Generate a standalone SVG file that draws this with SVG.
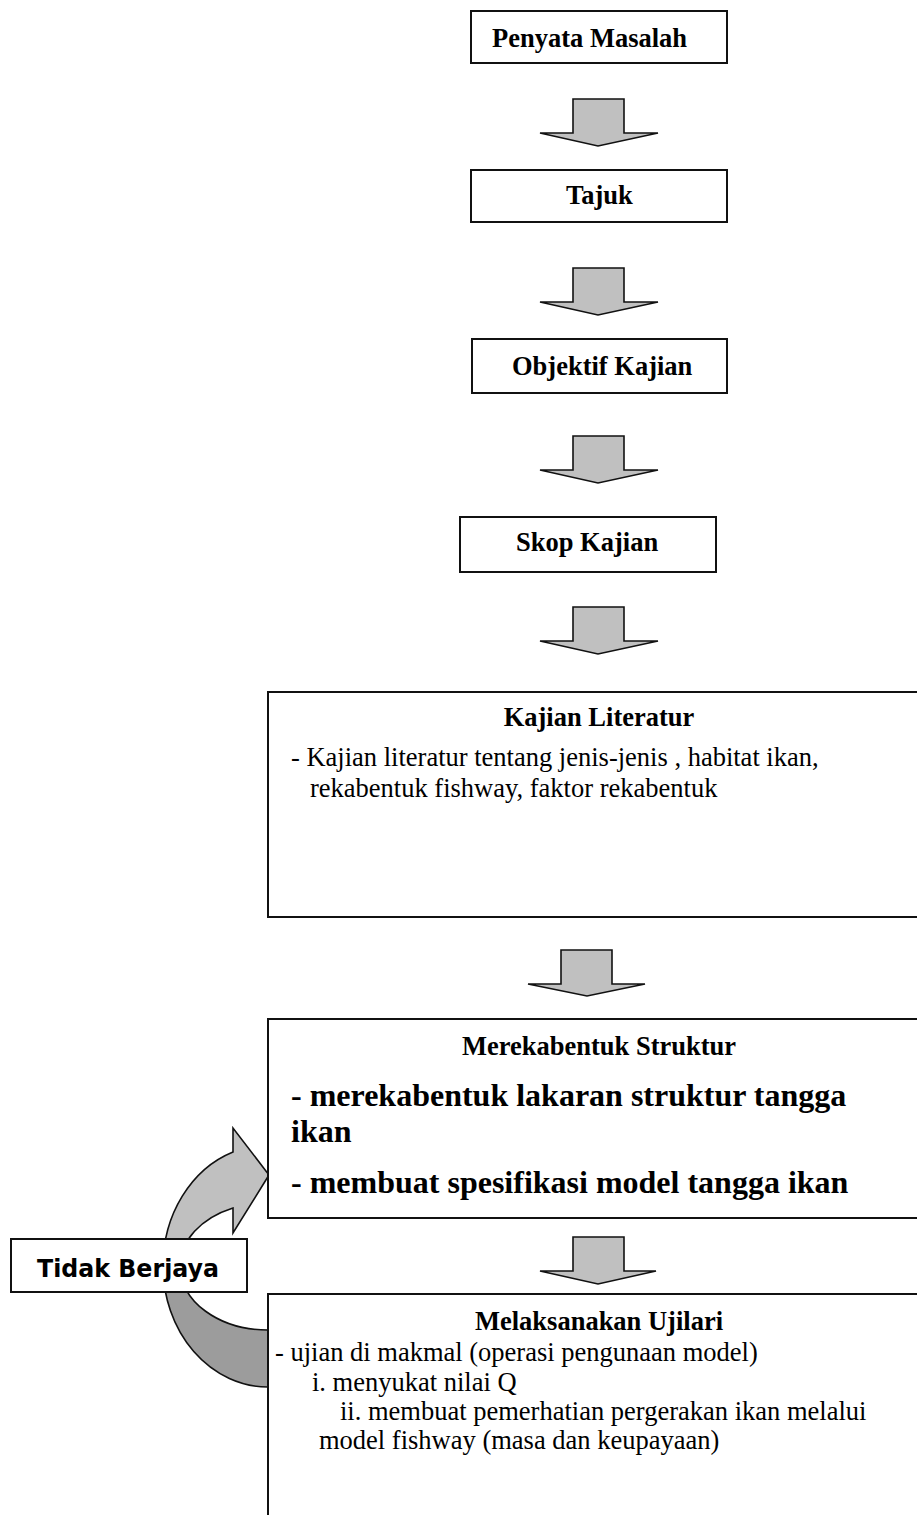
<svg xmlns="http://www.w3.org/2000/svg" width="917" height="1515" viewBox="0 0 917 1515">
<style>
.box{fill:#fff;stroke:#111;stroke-width:2}
.blk{fill:#c0c0c0;stroke:#111;stroke-width:1.6;stroke-linejoin:miter}
.t{font-family:"Liberation Serif","Times New Roman",serif;font-size:26.5px;fill:#000}
.b{font-weight:bold}
.big{font-size:32px;font-weight:bold}
.lab{font-family:"DejaVu Sans",Verdana,sans-serif;font-weight:bold;font-size:25px;fill:#000}
</style>
<rect width="917" height="1515" fill="#fff"/>
<g id="connectors">
<path class="blk" d="M573,99H624V133H658L598,146L540,133H573Z"/>
<path class="blk" d="M573,268H624V302H658L598,315L540,302H573Z"/>
<path class="blk" d="M573,436H624V470H658L598,483L540,470H573Z"/>
<path class="blk" d="M573,607H624V641H658L598,654L540,641H573Z"/>
<path class="blk" d="M561,950H612V984H645L587,996L528,984H561Z"/>
<path class="blk" d="M573,1237H624V1271H656L598,1284L540,1271H573Z"/>
<g id="loop-arrow">
<path d="M163,1266A105,121 0 0 0 268,1387L268,1330A88,63.6 0 0 1 180,1266Z" fill="#9c9c9c" stroke="#111" stroke-width="1.6"/>
<path d="M163,1266A105,121 0 0 1 233,1152L233,1128L269,1175L233,1233L233,1208A88,63.6 0 0 0 180,1266Z" fill="#c0c0c0" stroke="#111" stroke-width="1.6" stroke-linejoin="miter"/>
</g>
</g>
<g id="penyata-masalah">
<rect class="box" x="471" y="11" width="256" height="52"/>
<text class="t b" x="492" y="47">Penyata Masalah</text>
</g>
<g id="tajuk">
<rect class="box" x="471" y="170" width="256" height="52"/>
<text class="t b" x="566" y="204">Tajuk</text>
</g>
<g id="objektif-kajian">
<rect class="box" x="472" y="339" width="255" height="54"/>
<text class="t b" x="512" y="375">Objektif Kajian</text>
</g>
<g id="skop-kajian">
<rect class="box" x="460" y="517" width="256" height="55"/>
<text class="t b" x="516" y="551">Skop Kajian</text>
</g>
<g id="kajian-literatur">
<rect class="box" x="268" y="692" width="662" height="225"/>
<text class="t b" x="599" y="726" text-anchor="middle">Kajian Literatur</text>
<text class="t" x="291" y="766">- Kajian literatur tentang jenis-jenis , habitat ikan,</text>
<text class="t" x="310" y="797">rekabentuk fishway, faktor rekabentuk</text>
</g>
<g id="merekabentuk-struktur">
<rect class="box" x="268" y="1019" width="662" height="199"/>
<text class="t b" x="599" y="1055" text-anchor="middle">Merekabentuk Struktur</text>
<text class="t big" x="291" y="1106">- merekabentuk lakaran struktur tangga</text>
<text class="t big" x="291" y="1142">ikan</text>
<text class="t big" x="291" y="1193">- membuat spesifikasi model tangga ikan</text>
</g>
<g id="melaksanakan-ujilari">
<rect class="box" x="268" y="1294" width="662" height="240"/>
<text class="t b" x="599" y="1330" text-anchor="middle">Melaksanakan Ujilari</text>
<text class="t" x="275" y="1361">- ujian di makmal (operasi pengunaan model)</text>
<text class="t" x="312" y="1391">i. menyukat nilai Q</text>
<text class="t" x="340" y="1420">ii. membuat pemerhatian pergerakan ikan melalui</text>
<text class="t" x="319" y="1449">model fishway (masa dan keupayaan)</text>
</g>
<g id="tidak-berjaya">
<rect class="box" x="11" y="1239" width="236" height="53"/>
<text class="lab" x="37" y="1277" textLength="182" lengthAdjust="spacingAndGlyphs">Tidak Berjaya</text>
</g>
</svg>
